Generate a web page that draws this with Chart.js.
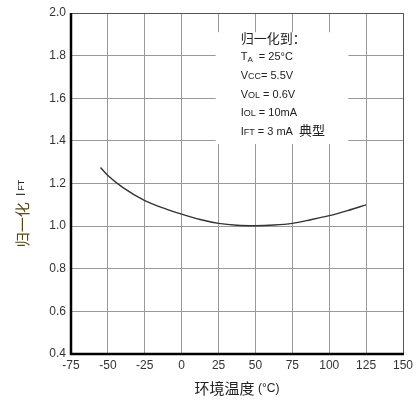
<!DOCTYPE html>
<html><head><meta charset="utf-8">
<script src="https://cdn.jsdelivr.net/npm/chart.js@4.4.1/dist/chart.umd.min.js"></script>
<style>html,body{margin:0;padding:0;background:#fff;}canvas{display:block;}</style>
</head><body>
<canvas id="c" width="418" height="403"></canvas>
<script>
const temperatures = [-55, -50, -40, -25, -10, 0, 12.5, 25, 37.5, 50, 62.5, 75, 87.5, 100, 112.5, 125];
const normIFT = [1.275, 1.237, 1.182, 1.12, 1.079, 1.056, 1.031, 1.013, 1.004, 1.002, 1.005, 1.013, 1.03, 1.049, 1.073, 1.10];
const xTicks = [-75, -50, -25, 0, 25, 50, 75, 100, 125, 150];
const yTicks = [0.4, 0.6, 0.8, 1.0, 1.2, 1.4, 1.6, 1.8, 2.0];
const xTitle = ['环境温度', ' (°C)'];
const yTitle = ['归一化', ' I', 'FT'];
const noteLines = [
  [['归一化到：', 13, 'cjk']],
  [['T', 11], ['A', 8], ['  = 25°C', 11]],
  [['V', 11], ['CC', 9], ['= 5.5V', 11]],
  [['V', 11], ['OL', 9], [' = 0.6V', 11]],
  [['I', 11], ['OL', 9], [' = 10mA', 11]],
  [['I', 11], ['FT', 9], [' = 3 mA  ', 11], ['典型', 13, 'cjk']]
];

const SANS = 'Arial, "Liberation Sans", sans-serif';
const CJK = '"Noto Sans CJK SC", sans-serif';

const overlay = {
  id: 'overlay',
  beforeDatasetsDraw(chart) {
    const ctx = chart.ctx, x = chart.scales.x, y = chart.scales.y;
    ctx.save();
    ctx.fillStyle = '#fff';
    const l = x.getPixelForValue(23), r = x.getPixelForValue(113);
    const t = y.getPixelForValue(1.91), b = y.getPixelForValue(1.385);
    ctx.fillRect(l, t, r - l, b - t);
    ctx.restore();
  },
  afterDraw(chart) {
    const ctx = chart.ctx, x = chart.scales.x, y = chart.scales.y, ca = chart.chartArea;
    ctx.save();
    ctx.strokeStyle = '#555'; ctx.lineWidth = 1;
    ctx.beginPath();
    ctx.moveTo(ca.left, ca.top + 0.5); ctx.lineTo(ca.right + 0.5, ca.top + 0.5); ctx.lineTo(ca.right + 0.5, ca.bottom);
    ctx.stroke();
    ctx.strokeStyle = '#000'; ctx.lineWidth = 2.5;
    ctx.beginPath();
    ctx.moveTo(ca.left, ca.top); ctx.lineTo(ca.left, ca.bottom); ctx.lineTo(ca.right + 1, ca.bottom);
    ctx.stroke();

    // note text
    ctx.fillStyle = '#222';
    ctx.textBaseline = 'alphabetic';
    const nx = x.getPixelForValue(40);
    const first = y.getPixelForValue(1.86);
    const step = (y.getPixelForValue(1.4) - y.getPixelForValue(1.8)) / 4.57;
    noteLines.forEach((line, i) => {
      let cx = nx;
      const base = first + i * step + (i > 0 ? -1 : 0);
      line.forEach(([txt, sz, f]) => {
        ctx.font = sz + 'px ' + (f === 'cjk' ? CJK : SANS);
        const dy = (sz === 8) ? 2 : 0;
        ctx.fillText(txt, cx, base + dy);
        cx += ctx.measureText(txt).width;
      });
    });

    // x title
    ctx.textBaseline = 'middle';
    ctx.font = '15px ' + CJK;
    const w1 = ctx.measureText(xTitle[0]).width;
    ctx.font = '12px ' + SANS;
    const w2 = ctx.measureText(xTitle[1]).width;
    let sx = (ca.left + ca.right) / 2 - (w1 + w2) / 2;
    ctx.fillStyle = '#222';
    ctx.font = '15px ' + CJK; ctx.fillText(xTitle[0], sx, 388);
    ctx.font = '12px ' + SANS; ctx.fillText(xTitle[1], sx + w1, 389);

    // y title rotated
    ctx.translate(22, 212);
    ctx.rotate(-Math.PI / 2);
    ctx.font = '15px ' + CJK;
    const a1 = ctx.measureText(yTitle[0]).width;
    ctx.font = '12px ' + SANS;
    const a2 = ctx.measureText(yTitle[1]).width;
    ctx.font = '9px ' + SANS;
    const a3 = ctx.measureText(yTitle[2]).width;
    let px = -(a1 + a2 + a3) / 2 - 4;
    ctx.fillStyle = '#5a4712';
    ctx.font = '15px ' + CJK; ctx.fillText(yTitle[0], px, 0);
    ctx.fillStyle = '#222';
    ctx.font = '12px ' + SANS; ctx.fillText(yTitle[1], px + a1 + 3, 0);
    ctx.font = '9px ' + SANS; ctx.fillText(yTitle[2], px + a1 + a2 + 5, 0);
    ctx.restore();
  }
};

new Chart(document.getElementById('c'), {
  type: 'line',
  data: {
    datasets: [{
      data: temperatures.map((t, i) => ({ x: t, y: normIFT[i] })),
      borderColor: '#333',
      borderWidth: 1.4,
      pointRadius: 0,
      cubicInterpolationMode: 'monotone',
      fill: false
    }]
  },
  options: {
    responsive: false,
    animation: false,
    layout: { padding: { left: 0, right: 15, top: 13, bottom: 0 } },
    plugins: { legend: { display: false }, tooltip: { enabled: false } },
    scales: {
      x: {
        type: 'linear',
        min: -75, max: 150,
        afterBuildTicks: s => { s.ticks = xTicks.map(v => ({ value: v })); },
        afterFit: s => { s.height = 49; },
        grid: { color: '#999', lineWidth: 1, drawTicks: false },
        border: { display: false },
        ticks: { color: '#333', font: { family: SANS, size: 12 }, padding: 4, maxRotation: 0, autoSkip: false,
          callback: v => String(v) }
      },
      y: {
        type: 'linear',
        min: 0.4, max: 2.0,
        afterBuildTicks: s => { s.ticks = yTicks.map(v => ({ value: v })); },
        afterFit: s => { s.width = 71; },
        grid: { color: '#999', lineWidth: 1, drawTicks: false },
        border: { display: false },
        ticks: { color: '#333', font: { family: SANS, size: 12 }, padding: 5, autoSkip: false,
          callback: v => Number(v).toFixed(1) }
      }
    }
  },
  plugins: [overlay]
});
</script>
</body></html>
